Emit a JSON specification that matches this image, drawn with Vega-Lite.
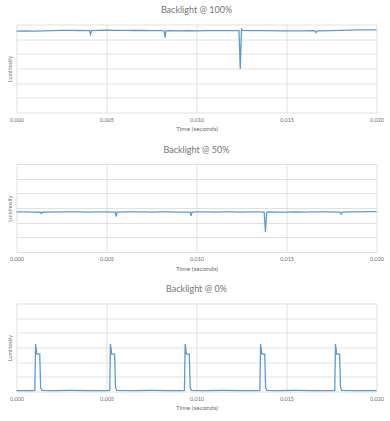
{
  "$schema": "https://vega.github.io/schema/vega-lite/v6.json",
  "background": "white",
  "padding": {"left": 7.5, "top": 5.5, "right": 5, "bottom": 3},
  "spacing": 12.5,
  "config": {
    "font": "Lato",
    "view": {"stroke": null},
    "title": {"fontSize": 9, "fontWeight": "normal", "color": "#757575", "offset": 9.5},
    "axis": {
      "labelColor": "#6f6f6f", "labelFontSize": 5.5, "titleColor": "#6f6f6f", "titleFontSize": 6.5,
      "titleFontWeight": "normal", "gridColor": "#d9d9d9", "gridWidth": 0.8, "domain": false, "ticks": false
    },
    "line": {"color": "#5b9bd5", "strokeWidth": 1.3, "interpolate": "linear"}
  },
  "datasets": {
    "p100": [
      {"t": 0.0000, "v": 5.55}, {"t": 0.0005, "v": 5.56}, {"t": 0.0010, "v": 5.55}, {"t": 0.0015, "v": 5.57},
      {"t": 0.0020, "v": 5.58}, {"t": 0.0025, "v": 5.60}, {"t": 0.0030, "v": 5.60}, {"t": 0.0035, "v": 5.59},
      {"t": 0.0040, "v": 5.58}, {"t": 0.00406, "v": 5.58}, {"t": 0.00411, "v": 5.33}, {"t": 0.00417, "v": 5.58},
      {"t": 0.0045, "v": 5.60}, {"t": 0.0050, "v": 5.61}, {"t": 0.0055, "v": 5.60}, {"t": 0.0060, "v": 5.60},
      {"t": 0.0065, "v": 5.59}, {"t": 0.0070, "v": 5.59}, {"t": 0.0075, "v": 5.58}, {"t": 0.0080, "v": 5.58},
      {"t": 0.00820, "v": 5.57}, {"t": 0.00825, "v": 5.10}, {"t": 0.00831, "v": 5.56}, {"t": 0.0085, "v": 5.58},
      {"t": 0.0090, "v": 5.57}, {"t": 0.0095, "v": 5.58}, {"t": 0.0100, "v": 5.57}, {"t": 0.0105, "v": 5.58},
      {"t": 0.0110, "v": 5.58}, {"t": 0.0115, "v": 5.58}, {"t": 0.0120, "v": 5.58}, {"t": 0.01236, "v": 5.58},
      {"t": 0.01243, "v": 2.97}, {"t": 0.01250, "v": 5.68}, {"t": 0.01257, "v": 5.60}, {"t": 0.0130, "v": 5.58},
      {"t": 0.0135, "v": 5.58}, {"t": 0.0140, "v": 5.58}, {"t": 0.0145, "v": 5.57}, {"t": 0.0150, "v": 5.57},
      {"t": 0.0155, "v": 5.57}, {"t": 0.0160, "v": 5.57}, {"t": 0.01657, "v": 5.58}, {"t": 0.01664, "v": 5.45},
      {"t": 0.01671, "v": 5.57}, {"t": 0.0170, "v": 5.57}, {"t": 0.0175, "v": 5.58}, {"t": 0.0180, "v": 5.60},
      {"t": 0.0185, "v": 5.62}, {"t": 0.0190, "v": 5.63}, {"t": 0.0195, "v": 5.64}, {"t": 0.0200, "v": 5.64}
    ],
    "p50": [
      {"t": 0.0000, "v": 2.74}, {"t": 0.0005, "v": 2.73}, {"t": 0.0010, "v": 2.72}, {"t": 0.00133, "v": 2.71},
      {"t": 0.00138, "v": 2.62}, {"t": 0.00144, "v": 2.71}, {"t": 0.0018, "v": 2.72}, {"t": 0.0025, "v": 2.73},
      {"t": 0.0030, "v": 2.73}, {"t": 0.0035, "v": 2.73}, {"t": 0.0040, "v": 2.72}, {"t": 0.0045, "v": 2.73},
      {"t": 0.0050, "v": 2.73}, {"t": 0.00549, "v": 2.72}, {"t": 0.00554, "v": 2.42}, {"t": 0.00559, "v": 2.72},
      {"t": 0.0060, "v": 2.73}, {"t": 0.0065, "v": 2.73}, {"t": 0.0070, "v": 2.73}, {"t": 0.0075, "v": 2.72},
      {"t": 0.0080, "v": 2.73}, {"t": 0.0085, "v": 2.73}, {"t": 0.0090, "v": 2.72}, {"t": 0.00965, "v": 2.72},
      {"t": 0.00970, "v": 2.46}, {"t": 0.00975, "v": 2.72}, {"t": 0.0100, "v": 2.73}, {"t": 0.0105, "v": 2.73},
      {"t": 0.0110, "v": 2.72}, {"t": 0.0115, "v": 2.73}, {"t": 0.0120, "v": 2.73}, {"t": 0.0125, "v": 2.72},
      {"t": 0.0130, "v": 2.73}, {"t": 0.0135, "v": 2.73}, {"t": 0.01376, "v": 2.72}, {"t": 0.01383, "v": 1.36},
      {"t": 0.01390, "v": 2.70}, {"t": 0.01397, "v": 2.74}, {"t": 0.0145, "v": 2.72}, {"t": 0.0150, "v": 2.72},
      {"t": 0.0155, "v": 2.73}, {"t": 0.0160, "v": 2.72}, {"t": 0.0165, "v": 2.73}, {"t": 0.0170, "v": 2.73},
      {"t": 0.0175, "v": 2.73}, {"t": 0.01798, "v": 2.72}, {"t": 0.01804, "v": 2.58}, {"t": 0.01810, "v": 2.72},
      {"t": 0.0185, "v": 2.73}, {"t": 0.0190, "v": 2.74}, {"t": 0.0195, "v": 2.75}, {"t": 0.0200, "v": 2.75}
    ],
    "p0": [
      {"t": 0.0000, "v": 0.06}, {"t": 0.0005, "v": 0.06}, {"t": 0.0009, "v": 0.06}, {"t": 0.00102, "v": 0.07},
      {"t": 0.00106, "v": 3.24}, {"t": 0.00109, "v": 2.95}, {"t": 0.00113, "v": 2.55}, {"t": 0.00129, "v": 2.55},
      {"t": 0.00134, "v": 0.30}, {"t": 0.00140, "v": 0.08}, {"t": 0.0020, "v": 0.06}, {"t": 0.0030, "v": 0.07},
      {"t": 0.0040, "v": 0.06}, {"t": 0.0050, "v": 0.06}, {"t": 0.00518, "v": 0.07},
      {"t": 0.00522, "v": 3.24}, {"t": 0.00525, "v": 2.95}, {"t": 0.00529, "v": 2.55}, {"t": 0.00545, "v": 2.55},
      {"t": 0.00550, "v": 0.30}, {"t": 0.00556, "v": 0.08}, {"t": 0.0065, "v": 0.06}, {"t": 0.0075, "v": 0.07},
      {"t": 0.0085, "v": 0.06}, {"t": 0.0092, "v": 0.06}, {"t": 0.00933, "v": 0.07},
      {"t": 0.00937, "v": 3.24}, {"t": 0.00940, "v": 2.95}, {"t": 0.00944, "v": 2.55}, {"t": 0.00960, "v": 2.55},
      {"t": 0.00965, "v": 0.30}, {"t": 0.00971, "v": 0.08}, {"t": 0.0105, "v": 0.06}, {"t": 0.0115, "v": 0.07},
      {"t": 0.0125, "v": 0.06}, {"t": 0.0134, "v": 0.06}, {"t": 0.01352, "v": 0.07},
      {"t": 0.01356, "v": 3.24}, {"t": 0.01359, "v": 2.95}, {"t": 0.01363, "v": 2.55}, {"t": 0.01379, "v": 2.55},
      {"t": 0.01384, "v": 0.30}, {"t": 0.01390, "v": 0.08}, {"t": 0.0145, "v": 0.06}, {"t": 0.0155, "v": 0.07},
      {"t": 0.0165, "v": 0.06}, {"t": 0.0175, "v": 0.06}, {"t": 0.01768, "v": 0.07},
      {"t": 0.01772, "v": 3.24}, {"t": 0.01775, "v": 2.95}, {"t": 0.01779, "v": 2.55}, {"t": 0.01795, "v": 2.55},
      {"t": 0.01800, "v": 0.30}, {"t": 0.01806, "v": 0.08}, {"t": 0.0190, "v": 0.06}, {"t": 0.0200, "v": 0.06}
    ]
  },
  "vconcat": [
    {
      "title": "Backlight @ 100%",
      "width": 360, "height": 88,
      "data": {"name": "p100"},
      "mark": "line",
      "encoding": {
        "x": {"field": "t", "type": "quantitative", "scale": {"domain": [0, 0.02], "nice": false},
              "axis": {"title": "Time (seconds)", "values": [0, 0.005, 0.01, 0.015, 0.02], "format": ".3f", "labelFlush": false, "labelPadding": 4.5, "titlePadding": 3}},
        "y": {"field": "v", "type": "quantitative", "scale": {"domain": [0, 6], "nice": false},
              "axis": {"title": "Luminosity", "labels": false, "values": [0, 1, 2, 3, 4, 5, 6], "titlePadding": 4, "titleFontSize": 5.5}}
      }
    },
    {
      "title": "Backlight @ 50%",
      "width": 360, "height": 88,
      "data": {"name": "p50"},
      "mark": "line",
      "encoding": {
        "x": {"field": "t", "type": "quantitative", "scale": {"domain": [0, 0.02], "nice": false},
              "axis": {"title": "Time (seconds)", "values": [0, 0.005, 0.01, 0.015, 0.02], "format": ".3f", "labelFlush": false, "labelPadding": 4.5, "titlePadding": 3}},
        "y": {"field": "v", "type": "quantitative", "scale": {"domain": [0, 6], "nice": false},
              "axis": {"title": "Luminosity", "labels": false, "values": [0, 1, 2, 3, 4, 5, 6], "titlePadding": 4, "titleFontSize": 5.5}}
      }
    },
    {
      "title": "Backlight @ 0%",
      "width": 360, "height": 88,
      "data": {"name": "p0"},
      "mark": "line",
      "encoding": {
        "x": {"field": "t", "type": "quantitative", "scale": {"domain": [0, 0.02], "nice": false},
              "axis": {"title": "Time (seconds)", "values": [0, 0.005, 0.01, 0.015, 0.02], "format": ".3f", "labelFlush": false, "labelPadding": 4.5, "titlePadding": 3}},
        "y": {"field": "v", "type": "quantitative", "scale": {"domain": [0, 6], "nice": false},
              "axis": {"title": "Luminosity", "labels": false, "values": [0, 1, 2, 3, 4, 5, 6], "titlePadding": 4, "titleFontSize": 5.5}}
      }
    }
  ]
}
